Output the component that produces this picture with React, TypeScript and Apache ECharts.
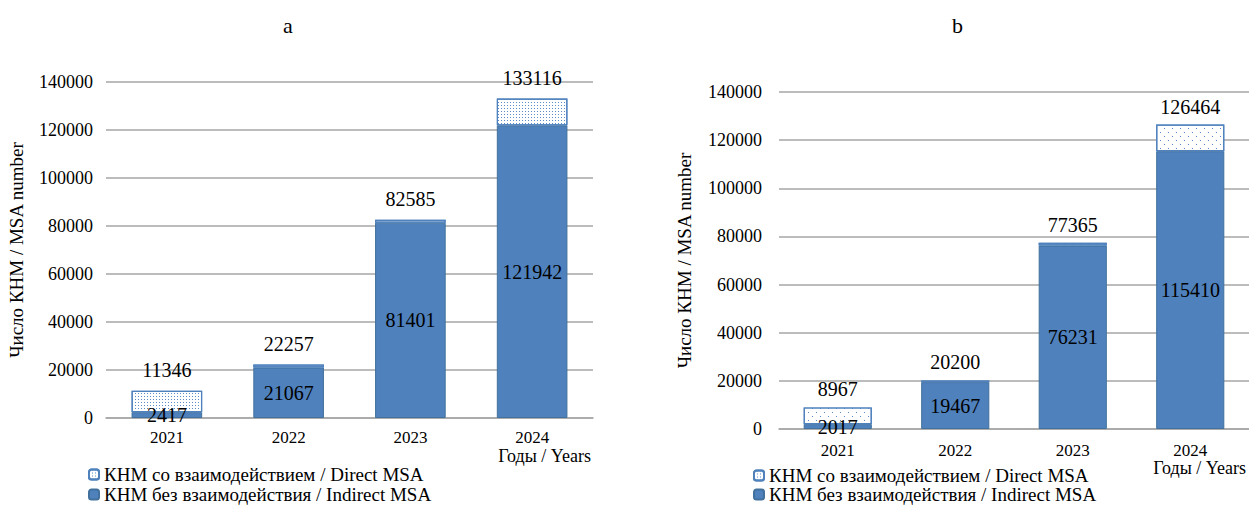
import React, { useEffect, useRef } from "react";
import * as echarts from "echarts";

const years = ["2021", "2022", "2023", "2024"];
const yTicks = [0, 20000, 40000, 60000, 80000, 100000, 120000, 140000];

// Panel a
const indirectA = [2417, 21067, 81401, 121942];
const directA = [8929, 1190, 1184, 11174];
const totalA = [11346, 22257, 82585, 133116];

// Panel b
const indirectB = [2017, 19467, 76231, 115410];
const directB = [6950, 733, 1134, 11054];
const totalB = [8967, 20200, 77365, 126464];

const nameDirect = "КНМ со взаимодействием / Direct MSA";
const nameIndirect = "КНМ без взаимодействия / Indirect MSA";
const yTitle = "Число КНМ / MSA number";
const xTitle = "Годы / Years";

const FONT = "Liberation Serif";
const BLUE = "#4f81bd";
const GRIDC = "#a6a6a6";

export default function App() {
  const ref = useRef<HTMLDivElement>(null);
  useEffect(() => {
    if (!ref.current) return;
    const chart = echarts.init(ref.current, undefined, { renderer: "svg" });

    const decalA = {
      symbol: "rect",
      symbolSize: 1,
      dashArrayX: [1, 2],
      dashArrayY: [1, 2],
      color: "#5b8bc9",
      backgroundColor: "#ffffff",
    };
    const decalB = {
      symbol: "rect",
      symbolSize: 1,
      dashArrayX: [[1, 7], [0, 4, 1, 3]],
      dashArrayY: [1, 3],
      color: "#5b8bc9",
      backgroundColor: "#ffffff",
    };

    const mkX = (gi: number, margin: number) => ({
      type: "category",
      gridIndex: gi,
      data: years,
      axisLine: { lineStyle: { color: GRIDC, width: 1.5 } },
      axisTick: { show: false },
      axisLabel: { fontFamily: FONT, fontSize: 17, color: "#000", margin },
    });
    const mkY = (gi: number, margin: number, nameGap: number) => ({
      type: "value",
      gridIndex: gi,
      min: 0,
      max: yTicks[yTicks.length - 1],
      interval: yTicks[1] - yTicks[0],
      name: yTitle,
      nameLocation: "middle",
      nameGap,
      nameTextStyle: { fontFamily: FONT, fontSize: 19, color: "#000" },
      axisLine: { show: false },
      axisTick: { show: false },
      axisLabel: {
        fontFamily: FONT,
        fontSize: 18,
        color: "#000",
        margin,
        formatter: (v: number) => String(v),
      },
      splitLine: { lineStyle: { color: GRIDC, width: 1.5 } },
    });

    const mkSeries = (
      idx: number,
      indirect: number[],
      direct: number[],
      total: number[],
      decal: any,
      topDist: number
    ) => [
      {
        name: nameIndirect,
        type: "bar",
        stack: "s" + idx,
        xAxisIndex: idx,
        yAxisIndex: idx,
        barWidth: "58%",
        data: indirect,
        itemStyle: { color: BLUE, borderColor: "#41719c", borderWidth: 1 },
        label: {
          show: true,
          position: "inside",
          fontFamily: FONT,
          fontSize: 20,
          color: "#000",
        },
      },
      {
        name: nameDirect,
        type: "bar",
        stack: "s" + idx,
        xAxisIndex: idx,
        yAxisIndex: idx,
        barWidth: "58%",
        data: direct,
        itemStyle: {
          color: "#ffffff",
          borderColor: BLUE,
          borderWidth: 1.2,
          decal,
        },
        label: {
          show: true,
          position: "top",
          distance: topDist,
          fontFamily: FONT,
          fontSize: 20,
          color: "#000",
          formatter: (p: any) => String(total[p.dataIndex]),
        },
      },
    ];

    const legendOne = (name: string, left: number, top: number) => ({
      orient: "horizontal",
      left,
      top,
      padding: 0,
      itemWidth: 10,
      itemHeight: 10,
      textStyle: { fontFamily: FONT, fontSize: 19, color: "#000" },
      data: [name],
      selectedMode: false,
    });

    chart.setOption({
      animation: false,
      backgroundColor: "#ffffff",
      grid: [
        { left: 106, top: 82, width: 487, height: 336 },
        { left: 779, top: 92, width: 470, height: 337 },
      ],
      xAxis: [mkX(0, 11), mkX(1, 13)],
      yAxis: [mkY(0, 13, 80), mkY(1, 17, 85)],
      legend: [
        legendOne(nameDirect, 88, 465),
        legendOne(nameIndirect, 88, 485),
        legendOne(nameDirect, 753, 466),
        legendOne(nameIndirect, 753, 485),
      ],
      series: [
        ...mkSeries(0, indirectA, directA, totalA, decalA, 11),
        ...mkSeries(1, indirectB, directB, totalB, decalB, 8),
      ],
      graphic: [
        {
          type: "text",
          left: 283,
          top: 14,
          style: { text: "a", fontFamily: FONT, fontSize: 22, fill: "#000" },
        },
        {
          type: "text",
          left: 952,
          top: 14,
          style: { text: "b", fontFamily: FONT, fontSize: 22, fill: "#000" },
        },
        {
          type: "text",
          right: 1249 - 591,
          top: 447,
          style: { text: xTitle, fontFamily: FONT, fontSize: 18, fill: "#000" },
        },
        {
          type: "text",
          right: 3,
          top: 459,
          style: { text: xTitle, fontFamily: FONT, fontSize: 18, fill: "#000" },
        },
      ],
    });
    return () => chart.dispose();
  }, []);
  return (
    <div
      ref={ref}
      style={{ position: "absolute", left: 0, top: 0, width: 1249, height: 506 }}
    />
  );
}
